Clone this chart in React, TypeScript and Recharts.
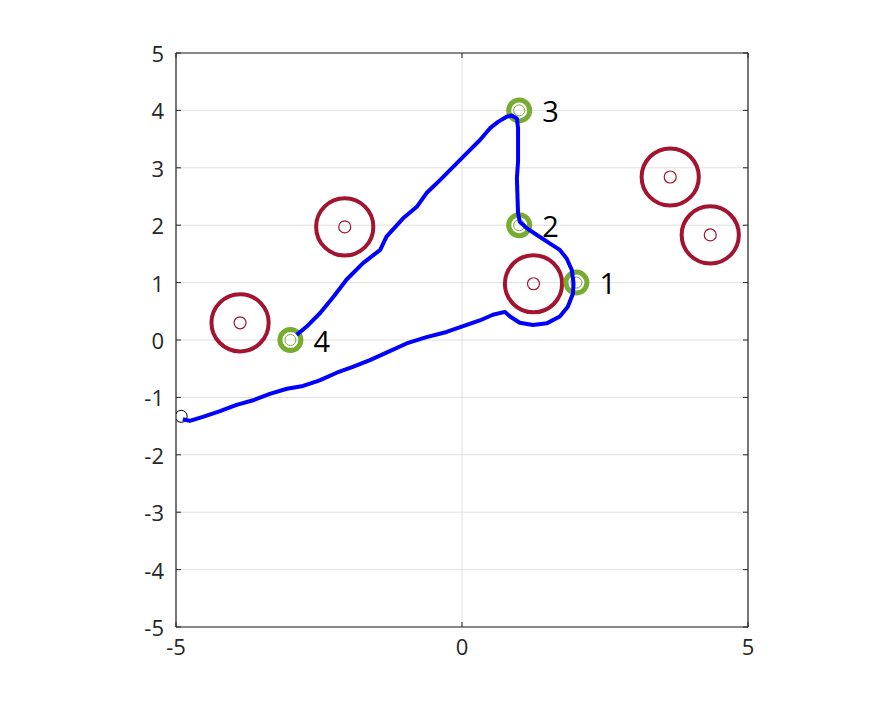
import {
  CartesianGrid,
  ReferenceLine,
  Scatter,
  ScatterChart,
  XAxis,
  YAxis,
} from 'recharts';

// obstacles (red rings)
const obstacleX = [-3.88, -2.05, 1.25, 3.64, 4.34];
const obstacleY = [0.3, 1.97, 0.98, 2.84, 1.83];

// waypoints (green rings) and their labels
const targetX = [2, 1, 1, -3];
const targetY = [1, 2, 4, 0];
const targetLabels = ['1', '2', '3', '4'];

// start position
const startX = [-4.91];
const startY = [-1.33];

// robot trajectory
const pathX = [
  -4.88, -4.76, -4.53, -4.23, -3.94, -3.65, -3.36, -3.06, -2.78, -2.54, -2.48,
  -2.19, -1.91, -1.61, -1.32, -0.97, -0.62, -0.27, 0.02, 0.31, 0.54, 0.75,
  0.84, 1.01, 1.24, 1.48, 1.71, 1.85, 1.94, 1.95, 1.92, 1.83, 1.71, 1.54, 1.31,
  1.13, 1.01, 0.98, 0.97, 0.96, 0.98, 0.98, 0.98, 0.96, 0.87, 0.78, 0.63, 0.49,
  0.31, 0.08, -0.15, -0.38, -0.62, -0.79, -1.03, -1.32, -1.43, -1.73, -2.02,
  -2.25, -2.48, -2.72, -2.89,
];
const pathY = [
  -1.38, -1.41, -1.34, -1.24, -1.13, -1.05, -0.94, -0.85, -0.8, -0.72, -0.7,
  -0.57, -0.47, -0.35, -0.22, -0.06, 0.05, 0.14, 0.24, 0.34, 0.44, 0.49, 0.41,
  0.3, 0.26, 0.29, 0.41, 0.58, 0.81, 0.99, 1.22, 1.42, 1.57, 1.68, 1.83, 1.95,
  2.06, 2.21, 2.5, 2.82, 3.11, 3.4, 3.69, 3.86, 3.91, 3.89, 3.8, 3.69, 3.48,
  3.25, 3.02, 2.79, 2.56, 2.32, 2.12, 1.8, 1.57, 1.34, 1.05, 0.75, 0.47, 0.23,
  0.09,
];

const xTicks = [-5, 0, 5];
const yTicks = [-5, -4, -3, -2, -1, 0, 1, 2, 3, 4, 5];

const plotWidth = 572;
const plotHeight = 574;
const pxPerUnit = plotWidth / 10;
const obstacleRadius = 0.5;
const tickMargin = 12;
const innerTick = 5;
const red = '#a2142f';
const green = '#77ac30';
const axisColor = '#262626';
const font = '"Open Sans", "Noto Sans", sans-serif';

const toPoints = (xs: number[], ys: number[]) =>
  xs.map((x, i) => ({ x, y: ys[i], i }));

// MATLAB style: tick marks point into the box, on both sides
const YTick = (props: any) => {
  const { x, y, payload } = props;
  const edge = x + tickMargin;
  return (
    <g>
      <line x1={edge} x2={edge + innerTick} y1={y} y2={y} stroke={axisColor} />
      <line
        x1={edge + plotWidth}
        x2={edge + plotWidth - innerTick}
        y1={y}
        y2={y}
        stroke={axisColor}
      />
      <text
        x={x}
        y={y}
        textAnchor='end'
        dominantBaseline='central'
        fill={axisColor}
        fontSize={22}
        fontFamily={font}
      >
        {payload.value}
      </text>
    </g>
  );
};

const XTick = (props: any) => {
  const { x, y, payload } = props;
  const edge = y - tickMargin;
  return (
    <g>
      <line x1={x} x2={x} y1={edge} y2={edge - innerTick} stroke={axisColor} />
      <line
        x1={x}
        x2={x}
        y1={edge - plotHeight}
        y2={edge - plotHeight + innerTick}
        stroke={axisColor}
      />
      <text
        x={x}
        y={y}
        dy='0.71em'
        textAnchor='middle'
        fill={axisColor}
        fontSize={22}
        fontFamily={font}
      >
        {payload.value}
      </text>
    </g>
  );
};

const ObstacleShape = (props: any) => {
  const { cx, cy } = props;
  return (
    <g>
      <circle
        cx={cx}
        cy={cy}
        r={obstacleRadius * pxPerUnit}
        fill='none'
        stroke={red}
        strokeWidth={4}
      />
      <circle cx={cx} cy={cy} r={6} fill='none' stroke={red} strokeWidth={1.2} />
    </g>
  );
};

const TargetShape = (props: any) => {
  const { cx, cy, payload } = props;
  return (
    <g>
      <circle cx={cx} cy={cy} r={10.5} fill='none' stroke={green} strokeWidth={5} />
      <circle cx={cx} cy={cy} r={5.5} fill='none' stroke={green} strokeWidth={1} />
      <text
        x={cx + 23}
        y={cy}
        dominantBaseline='central'
        fontSize={29}
        fontFamily={font}
        fill='#000'
      >
        {targetLabels[payload.i]}
      </text>
    </g>
  );
};

const StartShape = (props: any) => {
  const { cx, cy } = props;
  return <circle cx={cx} cy={cy} r={6} fill='none' stroke='#000' strokeWidth={1} />;
};

const App = () => {
  return (
    <div style={{ position: 'absolute', left: 0, top: 0, background: '#fff' }}>
      <ScatterChart
        width={891}
        height={703}
        margin={{ top: 53, right: 143, bottom: 36, left: 136 }}
      >
        <CartesianGrid stroke='#dfdfdf' strokeWidth={1} />
        <XAxis
          type='number'
          dataKey='x'
          domain={[-5, 5]}
          ticks={xTicks}
          height={40}
          tickLine={false}
          tickSize={0}
          tickMargin={tickMargin}
          axisLine={{ stroke: axisColor, strokeWidth: 1.2 }}
          tick={<XTick />}
          allowDataOverflow
        />
        <YAxis
          type='number'
          dataKey='y'
          domain={[-5, 5]}
          ticks={yTicks}
          width={40}
          tickLine={false}
          tickSize={0}
          tickMargin={tickMargin}
          axisLine={{ stroke: axisColor, strokeWidth: 1.2 }}
          tick={<YTick />}
          allowDataOverflow
        />
        <ReferenceLine y={5} stroke={axisColor} strokeWidth={1.2} />
        <ReferenceLine x={5} stroke={axisColor} strokeWidth={1.2} />
        <Scatter
          data={toPoints(obstacleX, obstacleY)}
          shape={ObstacleShape}
          isAnimationActive={false}
        />
        <Scatter
          data={toPoints(targetX, targetY)}
          shape={TargetShape}
          isAnimationActive={false}
        />
        <Scatter
          data={toPoints(startX, startY)}
          shape={StartShape}
          isAnimationActive={false}
        />
        <Scatter
          data={toPoints(pathX, pathY)}
          line={{ stroke: '#0000ff', strokeWidth: 4, strokeLinejoin: 'round' }}
          shape={() => <g />}
          isAnimationActive={false}
        />
      </ScatterChart>
    </div>
  );
};

export default App;
